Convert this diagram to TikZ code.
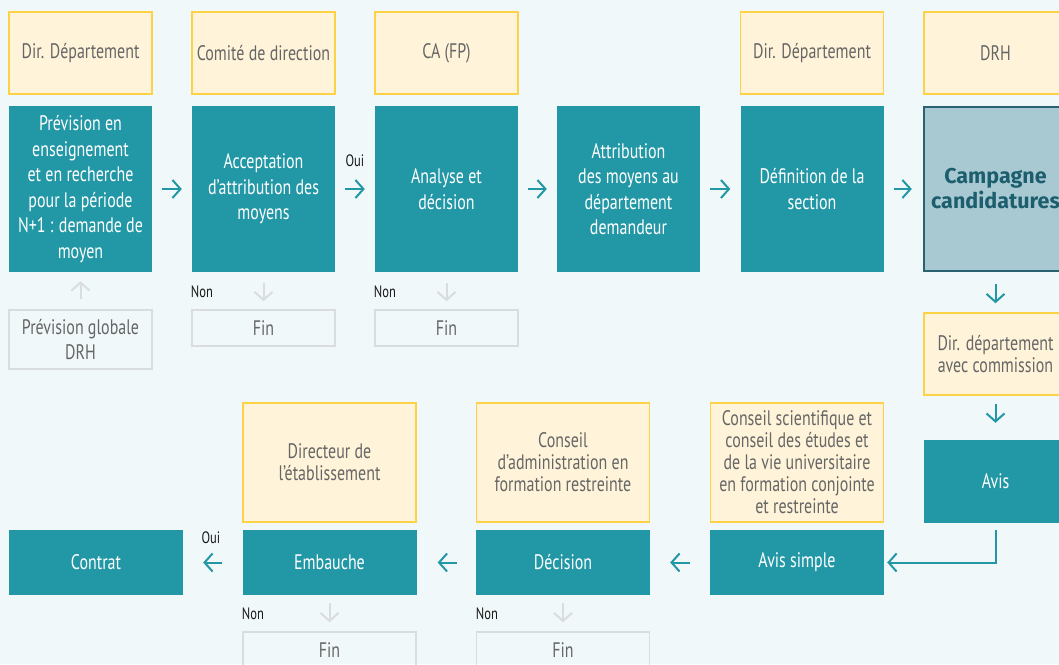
\documentclass[tikz,border=0pt]{standalone}
\usepackage{fontspec}
\setmainfont[FakeStretch=0.76]{PT Sans}
\newfontfamily\heavyfont{Fira Sans}
\usetikzlibrary{arrows.meta}
\definecolor{bgcol}{HTML}{F1F8FA}
\definecolor{tealcol}{HTML}{2297A5}
\definecolor{yellowfill}{HTML}{FFF4D9}
\definecolor{yellowline}{HTML}{FDD247}
\definecolor{grayline}{HTML}{DADDE0}
\definecolor{graytext}{HTML}{666666}
\definecolor{campfill}{HTML}{A8C9D1}
\definecolor{campline}{HTML}{2A6272}
\definecolor{camptext}{HTML}{1D5E6E}
\tikzset{
  box/.style={inner sep=0pt,minimum width=143pt,align=center,font=\fontsize{21}{25.5}\selectfont},
  act/.style={box,fill=tealcol,text=white},
  who/.style={box,fill=yellowfill,draw=yellowline,line width=1.5pt,text=graytext},
  fin/.style={box,draw=grayline,line width=1.5pt,text=graytext},
  camp/.style={box,fill=campfill,draw=campline,line width=2.5pt,text=camptext,font=\heavyfont\bfseries\fontsize{21.5}{25}\selectfont},
  flow/.style={draw=tealcol,line width=2pt,-{Straight Barb[length=8pt,width=18pt]}},
  dead/.style={flow,draw=grayline},
  tag/.style={inner sep=0pt,font=\fontsize{16.5}{16.5}\selectfont,text=black!90}
}
\newcommand{\flowbox}[4][]{\node[#1] at (#2) (#3) {#4}}

\begin{document}
\begin{tikzpicture}[x=1pt,y=-1pt]
	\useasboundingbox (0,0) rectangle (1059,664);
	\fill[bgcol] (0,0) rectangle (1059,664);
	\clip (0,0) rectangle (1059,664);

	% who decides (top row)
	\flowbox[who,minimum height=82pt]{80.5,53}{w1}{Dir. Département};
	\flowbox[who,minimum height=82pt]{263.5,53}{w2}{Comité de direction};
	\flowbox[who,minimum height=82pt]{446.5,53}{w3}{CA (FP)};
	\flowbox[who,minimum height=82pt]{812,53}{w5}{Dir. Département};
	\flowbox[who,minimum height=82pt]{995.5,53}{w6}{DRH};

	% steps (top row)
	\flowbox[act,minimum height=166pt]{80.5,189}{prev}{Prévision en\\enseignement\\et en recherche\\pour la période\\N+1 : demande de\\moyen};
	\flowbox[act,minimum height=166pt]{263.5,189}{accept}{Acceptation\\d’attribution des\\moyens};
	\flowbox[act,minimum height=166pt]{446.5,189}{analyse}{Analyse et\\décision};
	\flowbox[act,minimum height=166pt]{628.5,189}{attrib}{Attribution\\des moyens au\\département\\demandeur};
	\flowbox[act,minimum height=166pt]{812,189}{defin}{Définition de la\\section};
	\flowbox[camp,minimum height=164pt]{995.5,189}{campagne}{Campagne\\candidatures};

	\flowbox[fin,minimum height=59pt]{80.5,339.5}{prevglob}{Prévision globale\\DRH};
	\flowbox[fin,minimum height=36pt]{263.5,328}{fin1}{Fin};
	\flowbox[fin,minimum height=36pt]{446.5,328}{fin2}{Fin};

	% right column
	\flowbox[who,minimum height=82pt,font=\fontsize{21}{22}\selectfont]{995.5,354}{w7}{Dir. département\\avec commission};
	\flowbox[act,minimum height=83pt]{995.5,481.5}{avis}{Avis};

	% bottom row
	\flowbox[who,minimum width=173pt,minimum height=119pt,font=\fontsize{21}{22}\selectfont]{329.5,462.5}{w8}{Directeur de\\l’établissement};
	\flowbox[who,minimum width=173pt,minimum height=119pt,font=\fontsize{21}{22}\selectfont]{563,462.5}{w9}{Conseil\\d’administration en\\formation restreinte};
	\flowbox[who,minimum width=173pt,minimum height=119pt,font=\fontsize{21}{22}\selectfont]{797,462.5}{w10}{Conseil scientifique et\\conseil des études et\\de la vie universitaire\\en formation conjointe\\et restreinte};

	\flowbox[act,minimum width=174pt,minimum height=65pt]{96,562.5}{contrat}{Contrat};
	\flowbox[act,minimum width=174pt,minimum height=65pt]{329.5,562.5}{embauche}{Embauche};
	\flowbox[act,minimum width=174pt,minimum height=65pt]{563,562.5}{decision}{Décision};
	\flowbox[act,minimum width=174pt,minimum height=65pt]{797,562.5}{avissimple}{Avis simple};

	\flowbox[fin,minimum width=173pt,minimum height=36pt]{329.5,650}{fin3}{Fin};
	\flowbox[fin,minimum width=173pt,minimum height=36pt]{563,650}{fin4}{Fin};

	% connectors
	\draw[flow,shorten <=10pt,shorten >=10pt] (prev) -- (accept);
	\draw[flow,shorten <=10pt,shorten >=10pt] (accept) -- (analyse);
	\draw[flow,shorten <=10pt,shorten >=10pt] (analyse) -- (attrib);
	\draw[flow,shorten <=10pt,shorten >=10pt] (attrib) -- (defin);
	\draw[flow,shorten <=10pt,shorten >=11pt] (defin) -- (campagne);
	\draw[dead,shorten <=10pt,shorten >=9pt] (prevglob) -- (prev);
	\draw[dead,shorten <=11pt,shorten >=8pt] (accept) -- (fin1);
	\draw[dead,shorten <=11pt,shorten >=8pt] (analyse) -- (fin2);
	\draw[flow,shorten <=12pt,shorten >=9pt] (campagne) -- (w7);
	\draw[flow,shorten <=8pt,shorten >=17pt] (w7) -- (avis);
	\draw[flow,shorten >=3pt] ([yshift=-7pt]avis.south) |- (avissimple.east);
	\draw[flow,shorten <=20pt,shorten >=20pt] (avissimple) -- (decision);
	\draw[flow,shorten <=19pt,shorten >=21pt] (decision) -- (embauche);
	\draw[flow,shorten <=20pt,shorten >=20pt] (embauche) -- (contrat);
	\draw[dead,shorten <=8pt,shorten >=9pt] (embauche) -- (fin3);
	\draw[dead,shorten <=8pt,shorten >=9pt] (decision) -- (fin4);

	% answers
	\node[tag] (oui1) at (355,161) {Oui};
	\node[tag] (non1) at (202,292) {Non};
	\node[tag] (non2) at (385,292) {Non};
	\node[tag] (oui2) at (211,538) {Oui};
	\node[tag] (non3) at (253,614) {Non};
	\node[tag] (non4) at (487,614) {Non};
\end{tikzpicture}
\end{document}
